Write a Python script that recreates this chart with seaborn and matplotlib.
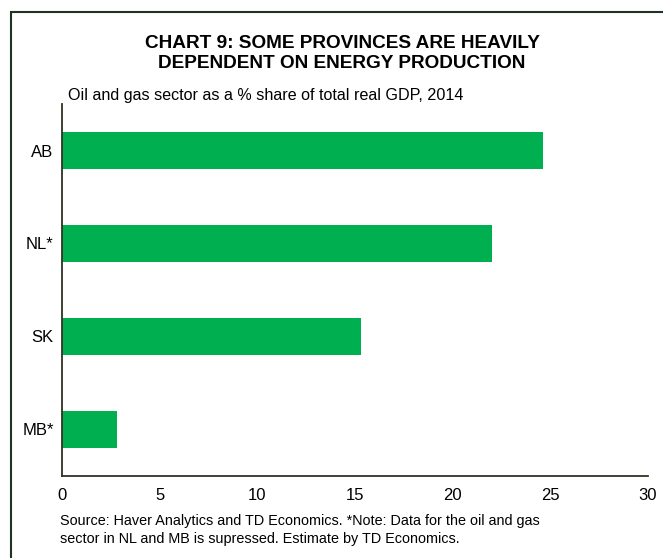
import matplotlib
matplotlib.use("Agg")
import matplotlib.pyplot as plt
from matplotlib.patches import Rectangle
import seaborn as sns
import pandas as pd

provinces = ["AB", "NL*", "SK", "MB*"]
share = [24.6, 22.0, 15.3, 2.8]
x_ticks = [0, 5, 10, 15, 20, 25, 30]

sns.set_theme(style="white")
plt.rcParams["font.family"] = ["Liberation Sans", "DejaVu Sans"]

df = pd.DataFrame({"province": provinces, "share": share})

fig = plt.figure(figsize=(6.63, 5.58), dpi=100)
ax = fig.add_axes([0.0935, 0.147, 0.8839, 0.6666])

sns.barplot(data=df, x="share", y="province", orient="h", color="#00B050",
            width=0.4, saturation=1, ax=ax, edgecolor="none")

ax.set_xlim(0, 30)
ax.set_ylim(3.5, -0.5)
ax.set_xticks(x_ticks)
ax.set_xticklabels([str(t) for t in x_ticks])
ax.tick_params(axis="both", length=0, labelsize=12, colors="black")
ax.tick_params(axis="x", pad=9)
ax.tick_params(axis="y", pad=6)
ax.set_xlabel("")
ax.set_ylabel("")
for s in ["top", "right"]:
    ax.spines[s].set_visible(False)
for s in ["left", "bottom"]:
    ax.spines[s].set_color("#2f3322")
    ax.spines[s].set_linewidth(1.3)

fig.text(0.516, 0.904, "CHART 9: SOME PROVINCES ARE HEAVILY\nDEPENDENT ON ENERGY PRODUCTION",
         ha="center", va="center", fontsize=13.7, fontweight="bold",
         linespacing=1.25, color="black")
fig.text(0.102, 0.829, "Oil and gas sector as a % share of total real GDP, 2014",
         ha="left", va="center", fontsize=11.6, color="black")
fig.text(0.09, 0.05, "Source: Haver Analytics and TD Economics. *Note: Data for the oil and gas\n"
         "sector in NL and MB is supressed. Estimate by TD Economics.",
         ha="left", va="center", fontsize=10.4, linespacing=1.3, color="black")

top = 1 - 12 / 558
border = Rectangle((11 / 663, -0.2), 1.2, top + 0.2, transform=fig.transFigure,
                   fill=False, edgecolor="#1e3320", linewidth=1.5, clip_on=False)
fig.patches.append(border)

fig.savefig("out.png", dpi=100)
